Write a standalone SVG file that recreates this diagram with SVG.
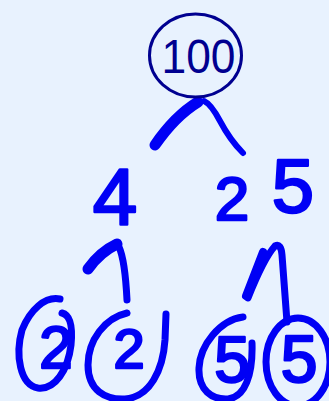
<svg xmlns="http://www.w3.org/2000/svg" width="329" height="401" viewBox="0 0 329 401">
<style>
.bg{fill:#e8f2fe}
.ink{fill:none;stroke:#0000f5;stroke-linecap:round;stroke-linejoin:round}
.num{font-family:"Liberation Sans",Arial,sans-serif;fill:#0000f5;stroke:#0000f5;stroke-width:2.5;stroke-linejoin:round;text-anchor:middle}
.root{font-family:"Liberation Sans",Arial,sans-serif;fill:#000090;font-size:49px;text-anchor:middle}
</style>
<rect class="bg" x="0" y="0" width="329" height="401"/>
<g id="connectors">
<path class="ink" stroke-width="11" d="M155,145 Q175,116 198,102"/>
<path class="ink" stroke-width="6" d="M204,101 Q211,104 220,121 Q230,140 243,153"/>
<path class="ink" stroke-width="11" d="M88,269 Q100,252 117,244"/>
<path class="ink" stroke-width="7" d="M119,247 Q125,260 127,300"/>
<path class="ink" stroke-width="8" d="M246,296 L263,252"/>
<path class="ink" stroke-width="7" d="M248,298 Q264,258 275,246 Q281,243 282,255 L287,322"/>
</g>
<g id="n100">
<ellipse cx="195.5" cy="55.5" rx="46" ry="41.5" fill="none" stroke="#000090" stroke-width="3"/>
<text class="root" x="198.5" y="73" textLength="74" lengthAdjust="spacingAndGlyphs">100</text>
</g>
<g id="n4">
<text class="num" x="115" y="224" font-size="80">4</text>
</g>
<g id="n25">
<text class="num" font-size="62"><tspan x="232" y="220">2</tspan><tspan x="293" y="212" font-size="76">5</tspan></text>
</g>
<g id="n2a">
<path class="ink" stroke-width="7" d="M60,299 C45,296 30,310 22,330 C15,355 20,385 38,388 C55,390 68,370 71,345 C73,325 70,315 62,313"/>
<text class="num" x="56" y="368" font-size="60">2</text>
</g>
<g id="n2b">
<path class="ink" stroke-width="7" d="M127,313 C105,318 88,340 88,365 C88,390 105,400 125,399 C150,397 163,370 165,340 L166,314"/>
<text class="num" x="129" y="368" font-size="56">2</text>
</g>
<g id="n5a">
<path class="ink" stroke-width="7" d="M243,317 C220,320 200,345 199,368 C198,390 212,400 228,399 C245,397 253,375 252,343"/>
<text class="num" x="232" y="382" font-size="64">5</text>
</g>
<g id="n5b">
<ellipse class="ink" stroke-width="7" cx="298" cy="362" rx="32" ry="44"/>
<text class="num" x="299" y="382" font-size="66">5</text>
</g>
</svg>
